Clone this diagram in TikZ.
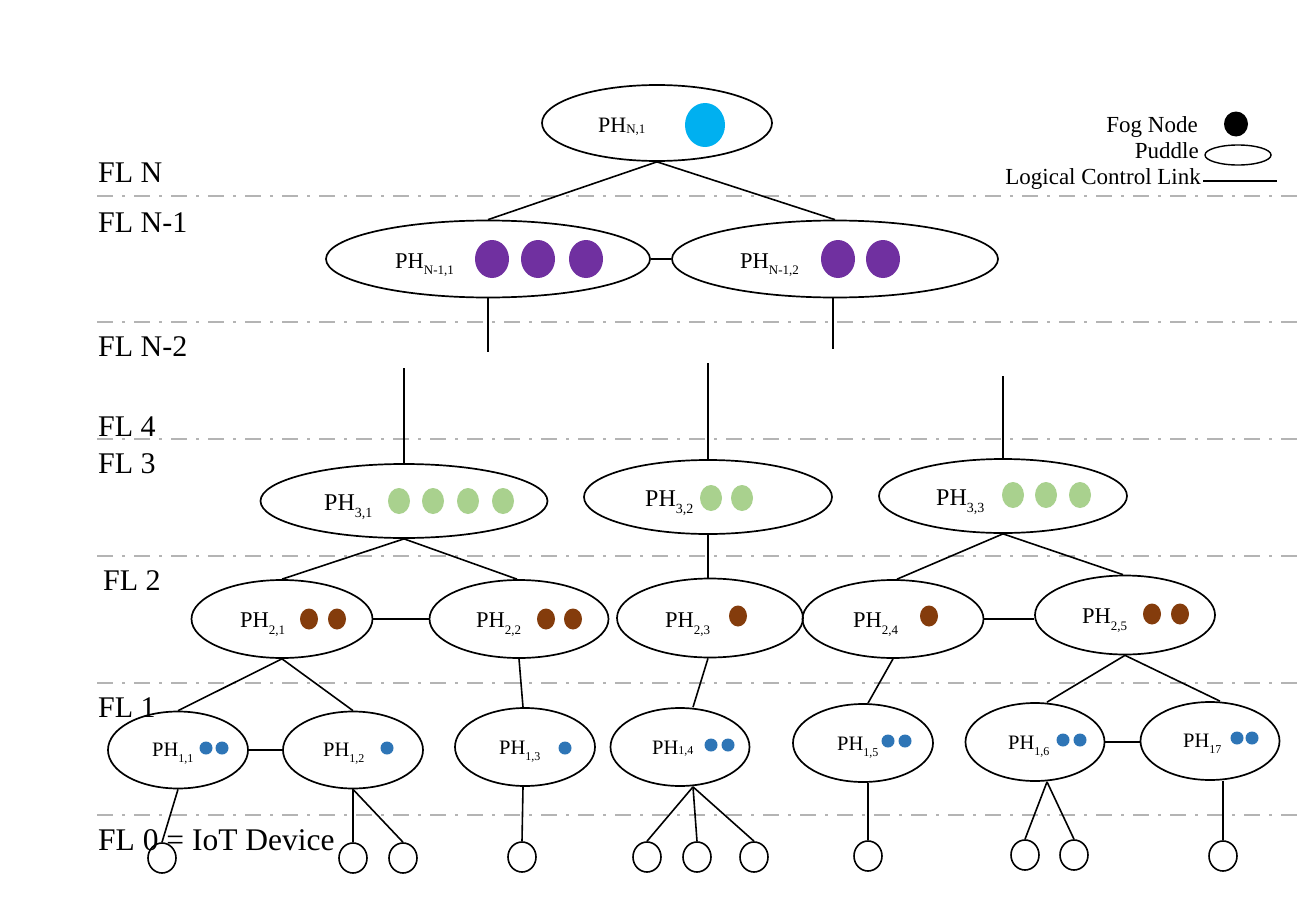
\documentclass[tikz,border=0pt]{standalone}
\usepackage{fontspec}
\setmainfont{Liberation Serif}
\usetikzlibrary{shapes.geometric}

\definecolor{levelgray}{HTML}{B4B4B4}
\definecolor{topcyan}{HTML}{00B0F0}
\definecolor{fogpurple}{HTML}{7030A0}
\definecolor{foggreen}{HTML}{A9D18E}
\definecolor{fogbrown}{HTML}{843C0C}
\definecolor{fogblue}{HTML}{2E75B6}

% label "PH" with a lowered index: #1 index, #2 drop, #3 index size
\newcommand{\phlabel}[3]{PH\raisebox{#2}{\fontsize{#3}{#3}\selectfont #1}}

\tikzset{
  levelline/.style={draw=levelgray, line width=2.8pt,
    dash pattern=on 16pt off 9pt on 3pt off 9pt},
  puddle/.style={draw=black, line width=1.7pt, ellipse, inner sep=0pt},
  iot/.style={draw=black, line width=1.6pt, ellipse, inner sep=0pt,
    minimum width=28pt, minimum height=30pt},
  link/.style={draw=black, line width=1.6pt},
  fltext/.style={anchor=base west, inner sep=0pt, font=\fontsize{30}{30}\selectfont},
  legtext/.style={anchor=base east, inner sep=0pt, font=\fontsize{23}{23}\selectfont},
  lab/.style={anchor=base west, inner sep=0pt},
  labN/.style={lab, font=\fontsize{22}{22}\selectfont},
  labC/.style={lab, font=\fontsize{24}{24}\selectfont},
  labB/.style={lab, font=\fontsize{22.5}{22.5}\selectfont},
  labA/.style={lab, font=\fontsize{20.5}{20.5}\selectfont}
}

\begin{document}
\begin{tikzpicture}[x=1pt, y=-1pt]
\useasboundingbox[fill=white] (0,0) rectangle (1299,899);

% fog level separators
\foreach \yy in {196,322,439,556,683,815}
  \draw[levelline] (97,\yy) -- (1299,\yy);

% fog level names
\node[fltext] (flN)  at (98,182) {FL N};
\node[fltext] (flN1) at (98,232) {FL N-1};
\node[fltext] (flN2) at (98,356) {FL N-2};
\node[fltext] (fl4)  at (98,436) {FL 4};
\node[fltext] (fl3)  at (98,473) {FL 3};
\node[fltext] (fl2)  at (103,590) {FL 2};
\node[fltext] (fl1)  at (98,717) {FL 1};

% legend
\node[legtext] (lgfog) at (1198,132) {Fog Node};
\fill[black] (1236,124) ellipse [x radius=12pt, y radius=12.5pt];
\node[legtext] (lgpud) at (1199,158) {Puddle};
\node[draw=black, line width=1.4pt, ellipse, inner sep=0pt,
      minimum width=66pt, minimum height=20pt] (lgell) at (1238,155) {};
\node[legtext] (lglink) at (1201,184) {Logical Control Link};
\coordinate (lgend) at (1277,181);
\draw[link, line width=1.4pt] (1203,181) -- (lgend);

% level N
\node[puddle, minimum width=230pt, minimum height=76pt] (pn) at (657,123) {};
% level N-1
\node[puddle, minimum width=324pt, minimum height=77pt] (pa) at (488,259) {};
\node[puddle, minimum width=326pt, minimum height=77pt] (pb) at (835,259) {};
% level 3
\node[puddle, minimum width=287pt, minimum height=74pt] (p31) at (404,501) {};
\node[puddle, minimum width=248pt, minimum height=74pt] (p32) at (708,497) {};
\node[puddle, minimum width=248pt, minimum height=74pt] (p33) at (1003,496) {};
% level 2
\node[puddle, minimum width=181pt, minimum height=78pt] (p21) at (282,619) {};
\node[puddle, minimum width=179pt, minimum height=78pt] (p22) at (519,619) {};
\node[puddle, minimum width=186pt, minimum height=79pt] (p23) at (710,618) {};
\node[puddle, minimum width=181pt, minimum height=78pt] (p24) at (893,619) {};
\node[puddle, minimum width=180pt, minimum height=79pt] (p25) at (1125,615) {};
% level 1
\node[puddle, minimum width=140pt, minimum height=77pt] (p11) at (178,750) {};
\node[puddle, minimum width=140pt, minimum height=77pt] (p12) at (353,750) {};
\node[puddle, minimum width=140pt, minimum height=78pt] (p13) at (525,747) {};
\node[puddle, minimum width=139pt, minimum height=78pt] (p14) at (680,747) {};
\node[puddle, minimum width=140pt, minimum height=78pt] (p15) at (863,743) {};
\node[puddle, minimum width=139pt, minimum height=78pt] (p16) at (1035,742) {};
\node[puddle, minimum width=139pt, minimum height=78pt] (p17) at (1210,741) {};
% level 0: IoT devices
\node[iot] (d1)  at (162,858) {};
\node[iot] (d2)  at (353,858) {};
\node[iot] (d3)  at (403,858) {};
\node[iot] (d4)  at (522,857) {};
\node[iot] (d5)  at (647,857) {};
\node[iot] (d6)  at (697,857) {};
\node[iot] (d7)  at (754,857) {};
\node[iot] (d8)  at (868,856) {};
\node[iot] (d9)  at (1025,855) {};
\node[iot] (d10) at (1074,855) {};
\node[iot] (d11) at (1223,856) {};

% puddle head labels
\node[labN] (tn)  at (598,132) {\phlabel{N,1}{-1pt}{13}};
\node[labB] (ta)  at (395,268) {\phlabel{N-1,1}{-6pt}{13}};
\node[labB] (tb)  at (740,268) {\phlabel{N-1,2}{-6pt}{13}};
\node[labC] (t31) at (324,510) {\phlabel{3,1}{-7pt}{14}};
\node[labC] (t32) at (645,506) {\phlabel{3,2}{-7pt}{14}};
\node[labC] (t33) at (936,505) {\phlabel{3,3}{-7pt}{14}};
\node[labB] (t21) at (240,627) {\phlabel{2,1}{-7pt}{13}};
\node[labB] (t22) at (476,627) {\phlabel{2,2}{-7pt}{13}};
\node[labB] (t23) at (665,627) {\phlabel{2,3}{-7pt}{13}};
\node[labB] (t24) at (853,627) {\phlabel{2,4}{-7pt}{13}};
\node[labB] (t25) at (1082,623) {\phlabel{2,5}{-7pt}{13}};
\node[labA] (t11) at (152,756) {\phlabel{1,1}{-6pt}{12}};
\node[labA] (t12) at (323,756) {\phlabel{1,2}{-6pt}{12}};
\node[labA] (t13) at (499,754) {\phlabel{1,3}{-6pt}{12}};
\node[labA] (t14) at (652,754) {\phlabel{1,4}{0pt}{12}};
\node[labA] (t15) at (837,750) {\phlabel{1,5}{-6pt}{12}};
\node[labA] (t16) at (1008,749) {\phlabel{1,6}{-6pt}{12}};
\node[labA] (t17) at (1183,747) {\phlabel{17}{-6pt}{12}};

% fog nodes inside the puddles
\fill[topcyan] (705,125) ellipse [x radius=20pt, y radius=22pt];
\foreach \xx in {492,538,586,838,883}
  \fill[fogpurple] (\xx,259) ellipse [x radius=17pt, y radius=19pt];
\foreach \xx/\yy in {399/501,433/501,468/501,503/501,711/498,742/498,1013/495,1046/495,1080/495}
  \fill[foggreen] (\xx,\yy) ellipse [x radius=11pt, y radius=13pt];
\foreach \xx/\yy in {309/619,337/619,546/619,573/619,738/616,929/616,1152/614,1180/614}
  \fill[fogbrown] (\xx,\yy) ellipse [x radius=9pt, y radius=10.5pt];
\foreach \xx/\yy in {206/748,222/748,387/748,565/748,711/745,728/745,888/741,905/741,1063/740,1080/740,1237/738,1252/738}
  \fill[fogblue] (\xx,\yy) circle [radius=6.5pt];

% logical control links
\draw[link] (pn.south) -- (pa.north);
\draw[link] (pn.south) -- (pb.north);
\draw[link] (pa.east) -- (pb.west);
\coordinate (ea) at (488,352);
\coordinate (eb) at (833,349);
\draw[link] (pa.south) -- (ea);
\draw[link] ([xshift=-2pt]pb.south) -- (eb);
\coordinate (u31) at (404,368);
\coordinate (u32) at (708,363);
\coordinate (u33) at (1003,376);
\draw[link] (u31) -- (p31.north);
\draw[link] (u32) -- (p32.north);
\draw[link] (u33) -- (p33.north);

\draw[link] (p31.south) -- (p21.north);
\draw[link] (p31.south) -- ([xshift=-2pt]p22.north);
\draw[link] (p32.south) -- ([xshift=-2pt]p23.north);
\draw[link] (p33.south) -- ([xshift=4pt]p24.north);
\draw[link] (p33.south) -- ([xshift=-2pt]p25.north);
\draw[link] (p21.east) -- (p22.west);
\draw[link] (p24.east) -- (p24.east -| p25.west);

\draw[link] (p21.south) -- (p11.north);
\draw[link] (p21.south) -- (p12.north);
\draw[link] (p22.south) -- ([xshift=-2pt]p13.north);
\draw[link] ([xshift=-2pt]p23.south) -- ([xshift=13pt]p14.north);
\draw[link] (p24.south) -- ([xshift=5pt]p15.north);
\draw[link] (p25.south) -- ([xshift=12pt]p16.north);
\draw[link] (p25.south) -- ([xshift=10pt]p17.north);
\draw[link] (p11.east) -- (p12.west);
\draw[link] (p16.east) -- (p16.east -| p17.west);

\draw[link] (p11.south) -- (d1.north);
\draw[link] (p12.south) -- (d2.north);
\draw[link] (p12.south) -- (d3.north);
\draw[link] ([xshift=-2pt]p13.south) -- (d4.north);
\draw[link] ([xshift=13pt]p14.south) -- (d5.north);
\draw[link] ([xshift=13pt]p14.south) -- (d6.north);
\draw[link] ([xshift=13pt]p14.south) -- (d7.north);
\draw[link] ([xshift=5pt]p15.south) -- (d8.north);
\draw[link] ([xshift=12pt]p16.south) -- (d9.north);
\draw[link] ([xshift=12pt]p16.south) -- (d10.north);
\draw[link] ([xshift=13pt]p17.south) -- (d11.north);

% bottom level name, written over the first device
\node[fltext, font=\fontsize{31.5}{31.5}\selectfont] (fl0) at (98,850) {FL 0 = IoT Device};
\end{tikzpicture}
\end{document}
